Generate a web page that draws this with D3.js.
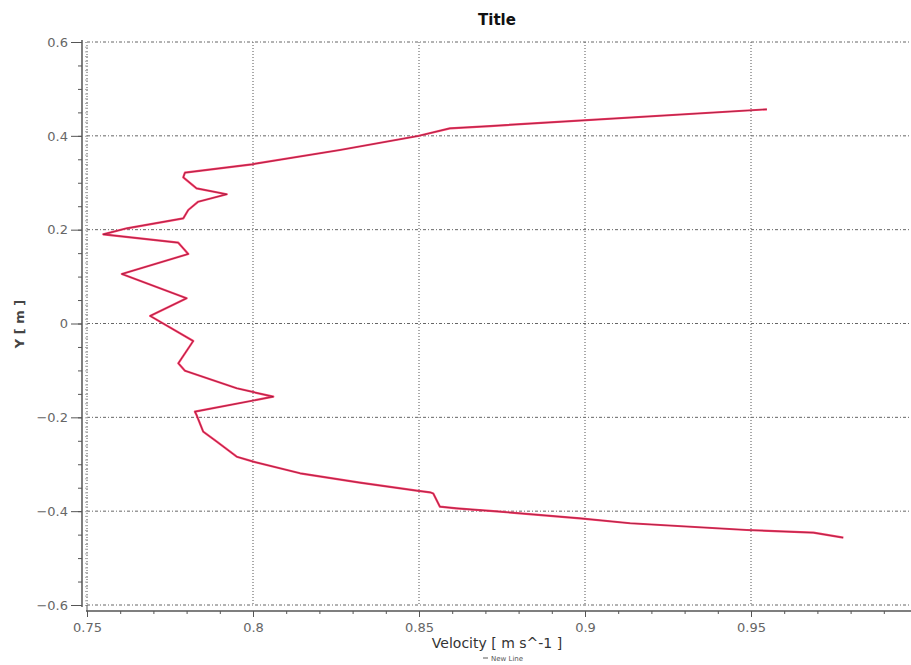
<!DOCTYPE html>
<html>
<head>
<meta charset="utf-8">
<script src="https://cdn.jsdelivr.net/npm/d3@7"></script>
<style>
  body { margin: 0; background: #fff; }
  svg { display: block; font-family: "DejaVu Sans", Verdana, sans-serif; }
</style>
</head>
<body>
<div id="chart"></div>
<script>
// line data, top to bottom
var velocity = [0.9548, 0.8714, 0.8593, 0.8497, 0.8262, 0.7997, 0.7795, 0.7790, 0.7830, 0.7921,
                0.7835, 0.7805, 0.7790, 0.7620, 0.7549, 0.7775, 0.7805, 0.7605, 0.7800, 0.7690,
                0.7820, 0.7775, 0.7795, 0.7951, 0.8061, 0.7825, 0.7830, 0.7850, 0.7891, 0.7951,
                0.8001, 0.8142, 0.8322, 0.8493, 0.8533, 0.8543, 0.8563, 0.8613, 0.8744, 0.8985,
                0.9136, 0.9487, 0.9688, 0.9778];
var yPos = [0.4565, 0.4209, 0.4160, 0.3996, 0.3698, 0.3393, 0.3214, 0.3116, 0.2881, 0.2754,
            0.2596, 0.2419, 0.2242, 0.2029, 0.1901, 0.1722, 0.1481, 0.1055, 0.0537, 0.0162,
            -0.0373, -0.0848, -0.1006, -0.1381, -0.1560, -0.1880, -0.1950, -0.2306, -0.2519, -0.2839,
            -0.2945, -0.3193, -0.3393, -0.3564, -0.3598, -0.3623, -0.3905, -0.3939, -0.4011, -0.4152,
            -0.4258, -0.4401, -0.4459, -0.4565];
var xTicks = [0.75, 0.8, 0.85, 0.9, 0.95];
var yTicks = [-0.6, -0.4, -0.2, 0, 0.2, 0.4, 0.6];
var title = "Title";
var xLabel = "Velocity [ m s^-1 ]";
var yLabel = "Y [ m ]";
var seriesName = "New Line";

var width = 911, height = 665;
var svg = d3.select("#chart").append("svg")
    .attr("width", width).attr("height", height);

var x = d3.scaleLinear().domain([0.75, 1.0]).range([87, 917]);
var y = d3.scaleLinear().domain([-0.6, 0.6]).range([605, 42]);

var minorX = d3.range(75, 100, 1).map(function(d) { return d / 100; });
var minorY = d3.range(-60, 61, 5).map(function(d) { return d / 100; });
var rulerY = d3.range(-60, 61, 1).map(function(d) { return d / 100; });

// grid
var grid = svg.append("g").attr("class", "grid");
grid.selectAll(".vg").data(xTicks).enter().append("line")
    .attr("x1", function(d) { return x(d); }).attr("x2", function(d) { return x(d); })
    .attr("y1", y(0.6)).attr("y2", y(-0.6))
    .attr("stroke", "#555").attr("stroke-width", 1).attr("stroke-dasharray", "1,2");
grid.selectAll(".hg").data(yTicks).enter().append("line")
    .attr("x1", x(0.75)).attr("x2", width)
    .attr("y1", function(d) { return y(d); }).attr("y2", function(d) { return y(d); })
    .attr("stroke", "#666").attr("stroke-width", 1).attr("stroke-dasharray", "3,2,1,2");

// y axis (sits a bit left of the plot)
var yAxisG = svg.append("g").attr("transform", "translate(82,0)");
yAxisG.call(d3.axisLeft(y).tickValues(minorY).tickSize(4).tickFormat(""))
    .call(function(g) { g.select(".domain").remove(); });
yAxisG.append("g").call(d3.axisLeft(y).tickValues(yTicks).tickSize(11).tickPadding(3)
    .tickFormat(function(d) { return d === 0 ? "0" : d3.format(".1f")(d); }))
    .call(function(g) { g.select(".domain").remove(); });
yAxisG.append("g").attr("transform", "translate(6,0)")
    .call(d3.axisLeft(y).tickValues(rulerY).tickSize(3).tickFormat(""))
    .call(function(g) {
      g.select(".domain").remove();
      g.selectAll("line").attr("stroke", "#aaa");
    });
yAxisG.append("line").attr("y1", y(0.6) - 2).attr("y2", y(-0.6) + 2)
    .attr("stroke", "#555").attr("stroke-width", 1.5);

// x axis (a bit below the plot)
var xAxisG = svg.append("g").attr("transform", "translate(0,611)");
xAxisG.call(d3.axisBottom(x).tickValues(minorX).tickSize(3).tickFormat(""))
    .call(function(g) { g.select(".domain").remove(); });
xAxisG.append("g").call(d3.axisBottom(x).tickValues(xTicks).tickSize(6).tickPadding(6)
    .tickFormat(function(d) { return String(d); }))
    .call(function(g) { g.select(".domain").remove(); });
xAxisG.append("line").attr("x1", x(0.75) - 1).attr("x2", width)
    .attr("stroke", "#555").attr("stroke-width", 1.5);
xAxisG.append("line").attr("x1", x(0.75)).attr("x2", x(0.75)).attr("y1", 0).attr("y2", -6)
    .attr("stroke", "#555");

svg.selectAll(".tick text").attr("fill", "#666").attr("font-size", 13)
    .attr("font-family", "DejaVu Sans, sans-serif");
svg.selectAll(".tick line").filter(function() { return !this.getAttribute("stroke") || this.getAttribute("stroke") === "currentColor"; })
    .attr("stroke", "#555");

// data line
var line = d3.line()
    .x(function(d, i) { return x(velocity[i]); })
    .y(function(d, i) { return y(yPos[i]); });
svg.append("path").datum(velocity)
    .attr("d", line)
    .attr("fill", "none")
    .attr("stroke", "#ff3a68")
    .attr("stroke-width", 2.2)
    .attr("stroke-linejoin", "round");
svg.append("path").datum(velocity)
    .attr("d", line)
    .attr("fill", "none")
    .attr("stroke", "#3a1020")
    .attr("stroke-width", 0.8)
    .attr("stroke-opacity", 0.55)
    .attr("stroke-linejoin", "round");

// texts
svg.append("text").attr("x", 497).attr("y", 25).attr("text-anchor", "middle")
    .attr("font-size", 15).attr("font-weight", "bold").attr("fill", "#111")
    .text(title);
svg.append("text").attr("x", 497).attr("y", 648).attr("text-anchor", "middle")
    .attr("font-size", 14).attr("fill", "#333")
    .text(xLabel);
svg.append("text").attr("transform", "translate(24,324) rotate(-90)")
    .attr("text-anchor", "middle").attr("font-size", 13).attr("font-weight", "bold")
    .attr("fill", "#444")
    .text(yLabel);

// legend
var leg = svg.append("g").attr("transform", "translate(483,661)");
leg.append("line").attr("x1", 0).attr("x2", 5).attr("y1", -3).attr("y2", -3)
    .attr("stroke", "#777").attr("stroke-width", 1.2);
leg.append("text").attr("x", 8).attr("y", 0).attr("font-size", 7).attr("fill", "#555")
    .text(seriesName);
</script>
</body>
</html>
